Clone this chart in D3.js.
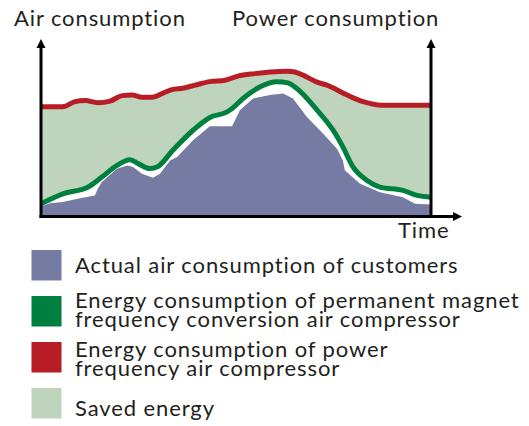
<!DOCTYPE html>
<html>
<head>
<meta charset="utf-8">
<script src="https://cdn.jsdelivr.net/npm/d3@7"></script>
<style>
  body { margin: 0; background: #fff; }
  svg { display: block; }
  text { font-family: Lato, "Open Sans", sans-serif; fill: #231f20; letter-spacing: 0.9px; }
</style>
</head>
<body>
<div id="chart"></div>
<script>
// series: [time, level] on a 0..100 scale
var powerFrequency = [
    [0, 61.9], [5.6, 61.9], [8.7, 64.7], [11.3, 65.3], [14.6, 64.1], [17.7, 65.0],
    [20.8, 68.1], [23.3, 68.4], [25.9, 67.2], [28.5, 67.2], [31.3, 69.5], [33.6, 71.5],
    [36.4, 72.3], [39.5, 74.0], [43.3, 76.0], [47.2, 76.8], [50.5, 79.1], [54.9, 80.5],
    [58.7, 81.4], [63.1, 81.9], [65.1, 81.4], [67.7, 79.1], [70.8, 75.7], [73.3, 74.0],
    [78.5, 68.4], [82.6, 64.7], [87.4, 62.7], [100, 62.7]
];
var permanentMagnet = [
    [0, 7.2], [5.6, 12.8], [12.1, 16.6], [15.6, 22.2], [19.5, 28.8], [22.8, 32.0],
    [24.9, 29.8], [27.9, 27.0], [30.0, 28.2], [33.8, 37.3], [39.0, 48.6], [43.3, 55.8],
    [47.7, 58.9], [49.0, 60.8], [51.8, 66.5], [56.2, 73.1], [60.5, 75.9], [63.3, 75.3],
    [65.6, 72.1], [70.8, 59.9], [74.9, 48.6], [77.4, 39.2], [80.0, 27.9], [83.6, 20.3],
    [86.9, 16.6], [92.8, 14.7], [96.4, 11.9], [100, 10.9]
];
var actualAir = [
    [0, 5.6], [2.3, 7.5], [5.6, 8.1], [10, 10.3], [13.8, 11.9], [14.6, 15.8], [15.6, 19.4],
    [19.5, 26.9], [22.1, 28.8], [23.6, 27.9], [25.9, 24.1], [28.7, 21.9], [30.5, 24.1],
    [33.1, 31.6], [34.9, 33.5], [39.0, 42.9], [43.3, 50.8], [49.0, 50.8], [51.0, 59.9],
    [54.4, 66.5], [58.7, 68.4], [62.1, 69.3], [64.6, 66.5], [68.2, 56.1], [72.3, 46.7],
    [75.9, 38.2], [77.4, 31.6], [77.9, 26.0], [81.8, 18.5], [86.9, 13.7], [92.8, 10.9],
    [95.9, 7.2], [100, 6.8]
];

var axisTitles = ["Air consumption", "Power consumption", "Time"];
var legendLabels = [
    ["Actual air consumption of customers"],
    ["Energy consumption of permanent magnet", "frequency conversion air compressor"],
    ["Energy consumption of power", "frequency air compressor"],
    ["Saved energy"]
];

var colors = {
    air: "#767ba3",
    magnet: "#00803f",
    power: "#b81c25",
    saved: "#bfd4bd"
};
var legendColors = [colors.air, colors.magnet, colors.power, colors.saved];

var W = 529, H = 426;
var plot = { left: 41, right: 431, top: 39, bottom: 216.5 };

var svg = d3.select("#chart").append("svg")
    .attr("width", W)
    .attr("height", H);

var x = d3.scaleLinear().domain([0, 100]).range([plot.left, plot.right]);
var y = d3.scaleLinear().domain([0, 100]).range([plot.bottom, plot.top]);

function areaUnder(curve) {
    return d3.area()
        .x(function(d) { return x(d[0]); })
        .y0(y(0))
        .y1(function(d) { return y(d[1]); })
        .curve(curve);
}
var line = d3.line()
    .x(function(d) { return x(d[0]); })
    .y(function(d) { return y(d[1]); })
    .curve(d3.curveMonotoneX);

// saved energy = everything under the power frequency line
svg.append("path")
    .attr("d", areaUnder(d3.curveMonotoneX)(powerFrequency))
    .style("fill", colors.saved);

// white gap between the magnet line and actual consumption
svg.append("path")
    .attr("d", areaUnder(d3.curveMonotoneX)(permanentMagnet))
    .style("fill", "#fff");

svg.append("path")
    .attr("d", areaUnder(d3.curveLinear)(actualAir))
    .style("fill", colors.air);

svg.append("path")
    .attr("d", line(powerFrequency))
    .style("fill", "none")
    .style("stroke", colors.power)
    .style("stroke-width", 5);

svg.append("path")
    .attr("d", line(permanentMagnet))
    .style("fill", "none")
    .style("stroke", colors.magnet)
    .style("stroke-width", 5);

// axes with arrow heads
var axes = svg.append("g").attr("class", "axes");
var xl = x(0), xr = x(100), yb = y(0), yt = y(100);

axes.append("line").attr("x1", xl).attr("x2", xl).attr("y1", yb + 1.5).attr("y2", yt + 6);
axes.append("line").attr("x1", xr).attr("x2", xr).attr("y1", yb + 1.5).attr("y2", yt + 6);
axes.append("line").attr("x1", xl - 1.5).attr("x2", 455).attr("y1", yb).attr("y2", yb);
axes.selectAll("line")
    .style("stroke", "#000")
    .style("stroke-width", 3);

axes.append("path").attr("d", "M" + xl + "," + yt + "l-4.5,9h9z");
axes.append("path").attr("d", "M" + xr + "," + yt + "l-4.5,9h9z");
axes.append("path").attr("d", "M462," + yb + "l-9,-4.5v9z");
axes.selectAll("path").style("fill", "#000");

svg.append("text").attr("x", 14).attr("y", 26).style("font-size", "22px").text(axisTitles[0]);
svg.append("text").attr("x", 232).attr("y", 26).style("font-size", "22px").text(axisTitles[1]);
svg.append("text").attr("x", 398).attr("y", 237.5).style("font-size", "22px").text(axisTitles[2]);

// legend
var legendTop = [250, 296, 342, 388];
var legendBase = [273.3, 308.3, 357.3, 416];

var legend = svg.selectAll(".legend")
    .data(legendLabels)
    .enter().append("g")
    .attr("class", "legend");

legend.append("rect")
    .attr("x", 31.5)
    .attr("y", function(d, i) { return legendTop[i]; })
    .attr("width", 30)
    .attr("height", 30.5)
    .style("fill", function(d, i) { return legendColors[i]; });

legend.each(function(d, i) {
    var t = d3.select(this).append("text")
        .attr("x", 75)
        .attr("y", legendBase[i])
        .style("font-size", "22px");
    d.forEach(function(s, j) {
        t.append("tspan")
            .attr("x", 75)
            .attr("dy", j === 0 ? 0 : 19)
            .text(s);
    });
});
</script>
</body>
</html>
